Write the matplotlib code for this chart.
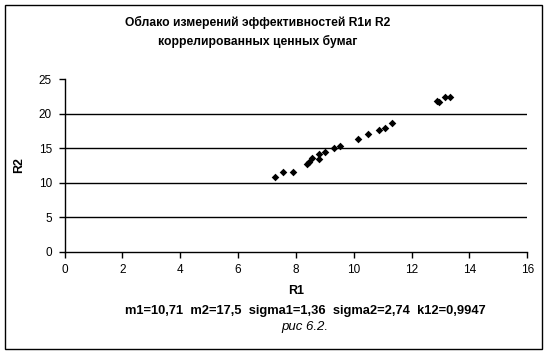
import matplotlib
matplotlib.use("Agg")
import matplotlib.pyplot as plt
from matplotlib.patches import Rectangle

plt.rcParams['font.family'] = ['Liberation Sans', 'DejaVu Sans']

r1 = [7.28, 7.57, 7.91, 8.37, 8.45, 8.54, 8.79, 8.80, 9.02, 9.30, 9.53,
      10.15, 10.50, 10.87, 11.08, 11.33, 12.89, 12.94, 13.16, 13.32]
r2 = [10.8, 11.6, 11.5, 12.7, 13.0, 13.6, 13.5, 14.1, 14.4, 15.0, 15.4,
      16.4, 17.1, 17.6, 17.9, 18.6, 21.9, 21.7, 22.4, 22.5]
xticks = [0, 2, 4, 6, 8, 10, 12, 14, 16]
yticks = [0, 5, 10, 15, 20, 25]
title = "Облако измерений эффективностей R1и R2\nкоррелированных ценных бумаг"
stats = "m1=10,71  m2=17,5  sigma1=1,36  sigma2=2,74  k12=0,9947"
caption = "рис 6.2."

fig = plt.figure(figsize=(5.49, 3.54), dpi=100)
W, H = 549, 354
ax = fig.add_axes([64.5 / W, 1 - 251.7 / H, (527.3 - 64.5) / W, (251.7 - 79.3) / H])
ax.scatter(r1, r2, marker='D', s=15, color='black', zorder=3, linewidths=0)
ax.set_xlim(0, 16)
ax.set_ylim(0, 25)
ax.set_xticks(xticks)
ax.set_yticks(yticks)
for y in yticks[1:-1]:
    ax.axhline(y, color='black', lw=1.0, zorder=1)
for s in ['top', 'right']:
    ax.spines[s].set_visible(False)
for s in ['left', 'bottom']:
    ax.spines[s].set_linewidth(1.0)
ax.tick_params(direction='out', length=4, width=1, labelsize=8.5, pad=5)
ax.set_xlabel("R1", fontsize=9, fontweight='bold', labelpad=6)
ax.set_ylabel("R2", fontsize=9, fontweight='bold', labelpad=10)

fig.text(258 / W, 1 - 32 / H, title, ha='center', va='center', fontsize=8.7,
         fontweight='bold', linespacing=1.5)
fig.text(305 / W, 1 - 311 / H, stats, ha='center', va='center', fontsize=9.3,
         fontweight='bold')
fig.text(305 / W, 1 - 327 / H, caption, ha='center', va='center', fontsize=9.5,
         fontstyle='italic')

fig.patches.append(Rectangle((4.5 / W, 1 - 349 / H), (541.5 - 4.5) / W, (349 - 4.5) / H,
                             transform=fig.transFigure, fill=False, edgecolor='black',
                             lw=1.0))
fig.savefig("out.png", dpi=100)
